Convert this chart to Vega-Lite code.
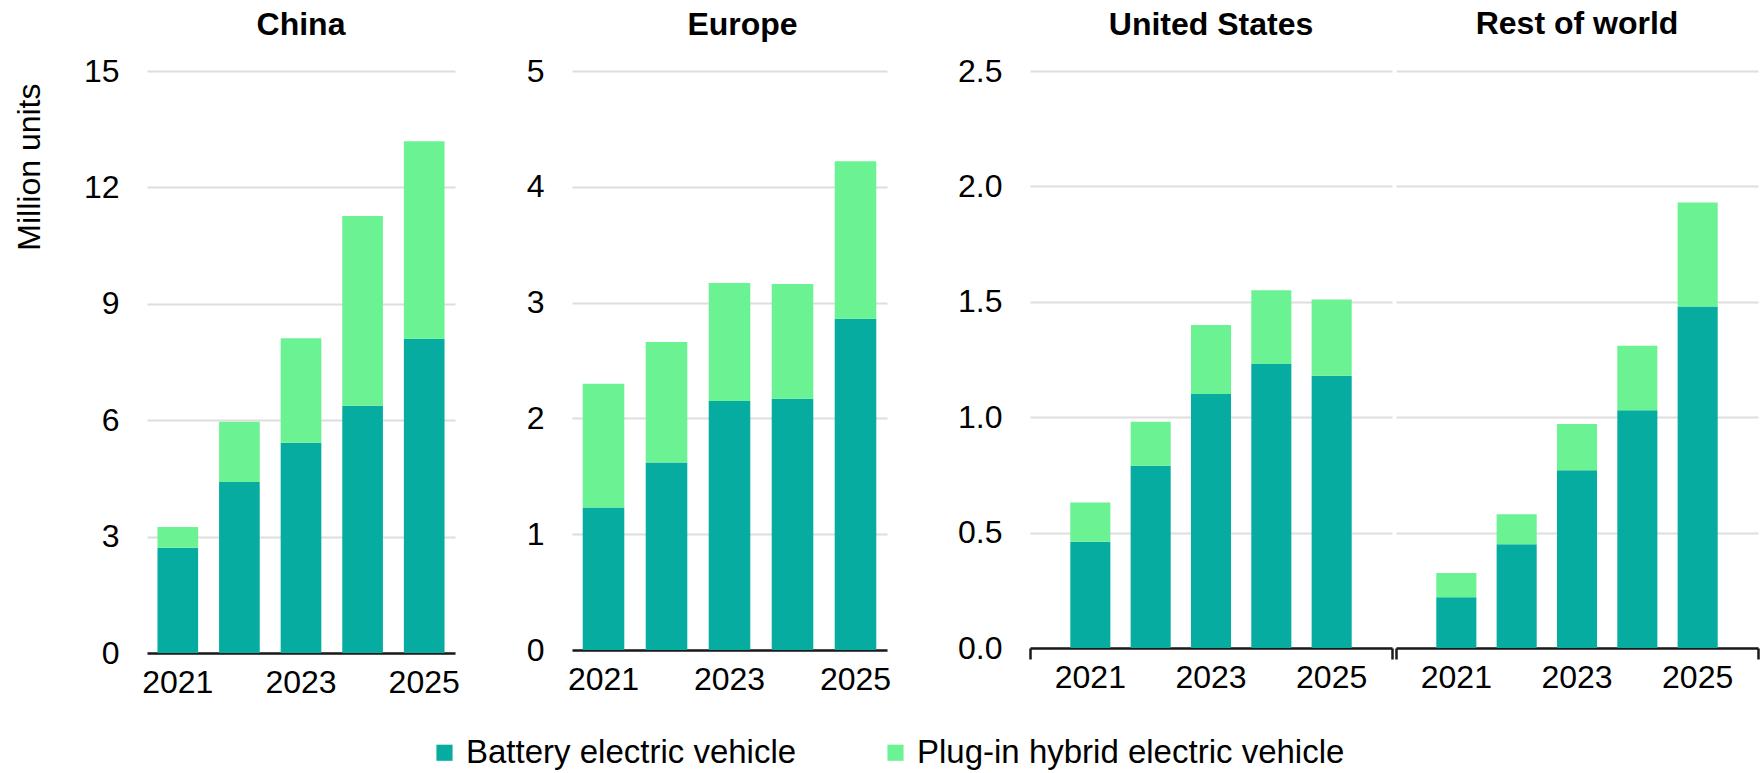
{
  "$schema": "https://vega.github.io/schema/vega-lite/v6.json",
  "padding": {"left": 13, "top": 8, "right": 5, "bottom": 5},
  "background": "white",
  "datasets": {
    "ev": [
      {"region": "China", "year": 2021, "type": "Battery electric vehicle", "units": 2.71},
      {"region": "China", "year": 2021, "type": "Plug-in hybrid electric vehicle", "units": 0.54},
      {"region": "China", "year": 2022, "type": "Battery electric vehicle", "units": 4.41},
      {"region": "China", "year": 2022, "type": "Plug-in hybrid electric vehicle", "units": 1.55},
      {"region": "China", "year": 2023, "type": "Battery electric vehicle", "units": 5.42},
      {"region": "China", "year": 2023, "type": "Plug-in hybrid electric vehicle", "units": 2.69},
      {"region": "China", "year": 2024, "type": "Battery electric vehicle", "units": 6.37},
      {"region": "China", "year": 2024, "type": "Plug-in hybrid electric vehicle", "units": 4.89},
      {"region": "China", "year": 2025, "type": "Battery electric vehicle", "units": 8.10},
      {"region": "China", "year": 2025, "type": "Plug-in hybrid electric vehicle", "units": 5.09},
      {"region": "Europe", "year": 2021, "type": "Battery electric vehicle", "units": 1.23},
      {"region": "Europe", "year": 2021, "type": "Plug-in hybrid electric vehicle", "units": 1.07},
      {"region": "Europe", "year": 2022, "type": "Battery electric vehicle", "units": 1.62},
      {"region": "Europe", "year": 2022, "type": "Plug-in hybrid electric vehicle", "units": 1.04},
      {"region": "Europe", "year": 2023, "type": "Battery electric vehicle", "units": 2.15},
      {"region": "Europe", "year": 2023, "type": "Plug-in hybrid electric vehicle", "units": 1.02},
      {"region": "Europe", "year": 2024, "type": "Battery electric vehicle", "units": 2.17},
      {"region": "Europe", "year": 2024, "type": "Plug-in hybrid electric vehicle", "units": 0.99},
      {"region": "Europe", "year": 2025, "type": "Battery electric vehicle", "units": 2.86},
      {"region": "Europe", "year": 2025, "type": "Plug-in hybrid electric vehicle", "units": 1.36},
      {"region": "United States", "year": 2021, "type": "Battery electric vehicle", "units": 0.46},
      {"region": "United States", "year": 2021, "type": "Plug-in hybrid electric vehicle", "units": 0.17},
      {"region": "United States", "year": 2022, "type": "Battery electric vehicle", "units": 0.79},
      {"region": "United States", "year": 2022, "type": "Plug-in hybrid electric vehicle", "units": 0.19},
      {"region": "United States", "year": 2023, "type": "Battery electric vehicle", "units": 1.10},
      {"region": "United States", "year": 2023, "type": "Plug-in hybrid electric vehicle", "units": 0.30},
      {"region": "United States", "year": 2024, "type": "Battery electric vehicle", "units": 1.23},
      {"region": "United States", "year": 2024, "type": "Plug-in hybrid electric vehicle", "units": 0.32},
      {"region": "United States", "year": 2025, "type": "Battery electric vehicle", "units": 1.18},
      {"region": "United States", "year": 2025, "type": "Plug-in hybrid electric vehicle", "units": 0.33},
      {"region": "Rest of world", "year": 2021, "type": "Battery electric vehicle", "units": 0.22},
      {"region": "Rest of world", "year": 2021, "type": "Plug-in hybrid electric vehicle", "units": 0.105},
      {"region": "Rest of world", "year": 2022, "type": "Battery electric vehicle", "units": 0.45},
      {"region": "Rest of world", "year": 2022, "type": "Plug-in hybrid electric vehicle", "units": 0.13},
      {"region": "Rest of world", "year": 2023, "type": "Battery electric vehicle", "units": 0.77},
      {"region": "Rest of world", "year": 2023, "type": "Plug-in hybrid electric vehicle", "units": 0.20},
      {"region": "Rest of world", "year": 2024, "type": "Battery electric vehicle", "units": 1.03},
      {"region": "Rest of world", "year": 2024, "type": "Plug-in hybrid electric vehicle", "units": 0.28},
      {"region": "Rest of world", "year": 2025, "type": "Battery electric vehicle", "units": 1.48},
      {"region": "Rest of world", "year": 2025, "type": "Plug-in hybrid electric vehicle", "units": 0.45}
    ]
  },
  "data": {"name": "ev"},
  "spacing": 66,
  "resolve": {"scale": {"y": "independent", "x": "independent"}},
  "hconcat": [
    {
      "title": {"text": "China", "offset": 13},
      "width": 308,
      "height": 582,
      "transform": [{"filter": "datum.region === 'China'"}],
      "mark": {"type": "bar"},
      "encoding": {
        "x": {"field": "year", "type": "ordinal", "scale": {"paddingInner": 0.34, "paddingOuter": 0.17}, "axis": {"values": [2021, 2023, 2025], "title": null, "labelAngle": 0}},
        "y": {"field": "units", "type": "quantitative", "stack": "zero", "scale": {"domain": [0, 15]}, "axis": {"values": [0, 3, 6, 9, 12, 15], "title": "Million units", "titleAnchor": "end", "titleAlign": "right", "titleY": 12, "titlePadding": 37}},
        "color": {"field": "type", "type": "nominal", "scale": {"domain": ["Battery electric vehicle", "Plug-in hybrid electric vehicle"], "range": ["#05AC9F", "#6BF293"]}, "legend": {"title": null}},
        "order": {"field": "type", "sort": "ascending"}
      }
    },
    {
      "title": {"text": "Europe", "offset": 13, "dx": 13},
      "width": 315,
      "height": 579,
      "transform": [{"filter": "datum.region === 'Europe'"}],
      "mark": {"type": "bar"},
      "encoding": {
        "x": {"field": "year", "type": "ordinal", "scale": {"paddingInner": 0.34, "paddingOuter": 0.17}, "axis": {"values": [2021, 2023, 2025], "title": null, "labelAngle": 0}},
        "y": {"field": "units", "type": "quantitative", "stack": "zero", "scale": {"domain": [0, 5]}, "axis": {"values": [0, 1, 2, 3, 4, 5], "title": null}},
        "color": {"field": "type", "type": "nominal", "scale": {"domain": ["Battery electric vehicle", "Plug-in hybrid electric vehicle"], "range": ["#05AC9F", "#6BF293"]}, "legend": {"title": null}},
        "order": {"field": "type", "sort": "ascending"}
      }
    },
    {
      "spacing": 0,
      "resolve": {"scale": {"y": "independent", "x": "independent"}},
      "hconcat": [
        {
          "title": {"text": "United States", "offset": 13},
          "width": 362,
          "height": 577,
          "transform": [{"filter": "datum.region === 'United States'"}],
          "layer": [
            {
              "mark": {"type": "bar"},
              "encoding": {
                "x": {"field": "year", "type": "ordinal", "scale": {"paddingInner": 0.336, "paddingOuter": 0.668}, "axis": {"values": [2021, 2023, 2025], "title": null, "labelAngle": 0, "orient": "bottom"}},
                "y": {"field": "units", "type": "quantitative", "stack": "zero", "scale": {"domain": [0, 2.5]}, "axis": {"values": [0, 0.5, 1, 1.5, 2, 2.5], "format": ".1f", "title": null}},
                "color": {"field": "type", "type": "nominal", "scale": {"domain": ["Battery electric vehicle", "Plug-in hybrid electric vehicle"], "range": ["#05AC9F", "#6BF293"]}, "legend": {"title": null}},
                "order": {"field": "type", "sort": "ascending"}
              }
            },
            {
              "mark": {"type": "bar", "opacity": 0},
              "encoding": {
                "x": {"field": "region", "type": "nominal", "scale": {"paddingInner": 0, "paddingOuter": 0}, "axis": {"orient": "bottom", "tickBand": "extent", "labels": false, "domain": false, "ticks": true, "tickSize": 11, "tickWidth": 2.5, "tickColor": "#1a1a1a", "title": null, "grid": false}}
              }
            }
          ],
          "resolve": {"scale": {"x": "independent"}, "axis": {"x": "independent"}}
        },
        {
          "title": {"text": "Rest of world", "offset": 30},
          "width": 362,
          "height": 577,
          "transform": [{"filter": "datum.region === 'Rest of world'"}],
          "layer": [
            {
              "mark": {"type": "bar"},
              "encoding": {
                "x": {"field": "year", "type": "ordinal", "scale": {"paddingInner": 0.336, "paddingOuter": 0.668}, "axis": {"values": [2021, 2023, 2025], "title": null, "labelAngle": 0, "orient": "bottom"}},
                "y": {"field": "units", "type": "quantitative", "stack": "zero", "scale": {"domain": [0, 2.5]}, "axis": {"values": [0, 0.5, 1, 1.5, 2, 2.5], "labels": false, "title": null}},
                "color": {"field": "type", "type": "nominal", "scale": {"domain": ["Battery electric vehicle", "Plug-in hybrid electric vehicle"], "range": ["#05AC9F", "#6BF293"]}, "legend": {"title": null}},
                "order": {"field": "type", "sort": "ascending"}
              }
            },
            {
              "mark": {"type": "bar", "opacity": 0},
              "encoding": {
                "x": {"field": "region", "type": "nominal", "scale": {"paddingInner": 0, "paddingOuter": 0}, "axis": {"orient": "bottom", "tickBand": "extent", "labels": false, "domain": false, "ticks": true, "tickSize": 11, "tickWidth": 2.5, "tickColor": "#1a1a1a", "title": null, "grid": false}}
              }
            }
          ],
          "resolve": {"scale": {"x": "independent"}, "axis": {"x": "independent"}}
        }
      ]
    }
  ],
  "config": {
    "font": "Liberation Sans",
    "view": {"stroke": null},
    "axis": {
      "labelFont": "Liberation Sans",
      "labelFontSize": 32,
      "labelColor": "#000000",
      "titleFont": "Liberation Sans",
      "titleFontSize": 32,
      "titleFontWeight": "normal",
      "titleColor": "#000000",
      "ticks": false,
      "tickSize": 0,
      "gridColor": "#dedede",
      "gridWidth": 2,
      "domainColor": "#1a1a1a",
      "domainWidth": 2.5
    },
    "axisY": {"domain": false, "grid": true, "labelPadding": 28},
    "axisX": {"grid": false, "domain": true, "labelPadding": 14},
    "title": {"font": "Liberation Sans", "fontSize": 32, "fontWeight": "bold", "color": "#000000", "frame": "group", "baseline": "alphabetic", "anchor": "middle"},
    "legend": {
      "orient": "bottom",
      "direction": "horizontal",
      "labelFont": "Liberation Sans",
      "labelFontSize": 33,
      "labelColor": "#000000",
      "labelLimit": 0,
      "symbolType": "square",
      "symbolSize": 260,
      "symbolStrokeWidth": 0,
      "columnPadding": 82,
      "labelOffset": 5,
      "offset": 38,
      "layout": {"bottom": {"anchor": "middle"}}
    }
  }
}
